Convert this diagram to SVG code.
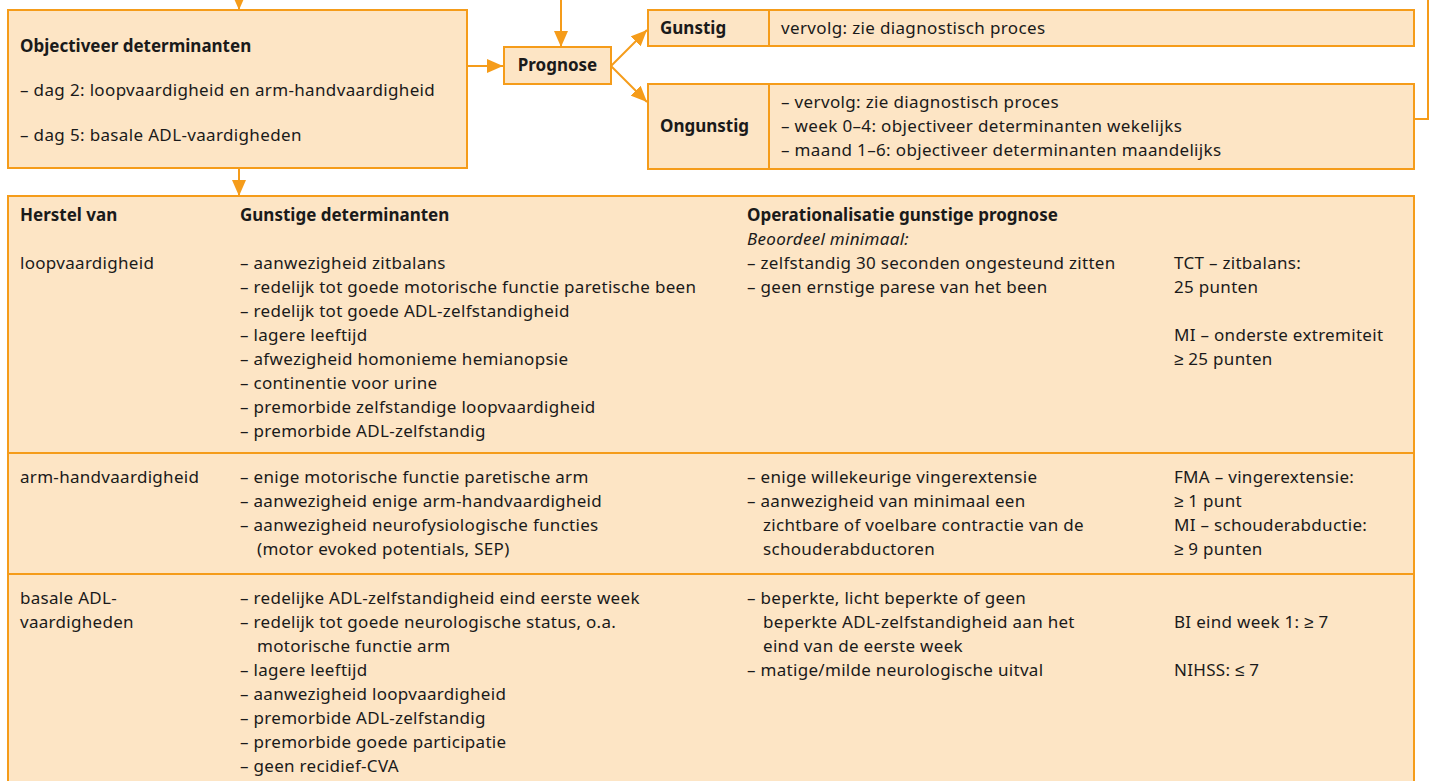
<svg xmlns="http://www.w3.org/2000/svg" width="1430" height="781" viewBox="0 0 1430 781">
<style>
.box{fill:#fde5c5;stroke:#f59c1a;stroke-width:2}
.ln{fill:none;stroke:#f59c1a;stroke-width:2}
.t{font-family:"Noto Sans","Liberation Sans",sans-serif;font-size:17px;letter-spacing:0.35px;fill:#1a1a1a}
.tb{font-family:"Noto Sans","Liberation Sans",sans-serif;font-size:17px;letter-spacing:0.3px;fill:#1a1a1a}
.b{font-weight:bold;letter-spacing:0}
.i{font-style:italic}
</style>
<defs>
<marker id="ah" markerUnits="userSpaceOnUse" markerWidth="17" markerHeight="14" refX="16" refY="7" orient="auto">
<path d="M0,0 L16,7 L0,14 z" fill="#f59c1a"/>
</marker>
</defs>
<rect width="1430" height="781" fill="#ffffff"/>
<g id="connectors">
<line class="ln" x1="239" y1="-2" x2="239" y2="10" marker-end="url(#ah)"/>
<line class="ln" x1="561" y1="-2" x2="561" y2="47" marker-end="url(#ah)"/>
<line class="ln" x1="467" y1="66" x2="503" y2="66" marker-end="url(#ah)"/>
<line class="ln" x1="611" y1="66" x2="647" y2="30" marker-end="url(#ah)"/>
<line class="ln" x1="611" y1="66" x2="647" y2="102" marker-end="url(#ah)"/>
<line class="ln" x1="239" y1="168" x2="239" y2="196" marker-end="url(#ah)"/>
<polyline class="ln" points="1414,119 1428,119 1428,-2"/>
</g>
<g id="objectiveer">
<rect class="box" x="8" y="10" width="459" height="158"/>
<text class="t b" x="20" y="52">Objectiveer determinanten</text>
<text class="t" x="20" y="96">– dag 2: loopvaardigheid en arm-handvaardigheid</text>
<text class="t" x="20" y="141">– dag 5: basale ADL-vaardigheden</text>
</g>
<g id="prognose">
<rect class="box" x="504" y="47" width="107" height="37"/>
<text class="t b" x="557.5" y="71" text-anchor="middle">Prognose</text>
</g>
<g id="gunstig">
<rect class="box" x="648" y="10" width="766" height="36"/>
<line class="ln" x1="769" y1="10" x2="769" y2="46"/>
<text class="t b" x="660" y="34">Gunstig</text>
<text class="t" x="781" y="34">vervolg: zie diagnostisch proces</text>
</g>
<g id="ongunstig">
<rect class="box" x="648" y="84" width="766" height="85"/>
<line class="ln" x1="769" y1="84" x2="769" y2="169"/>
<text class="t b" x="660" y="132">Ongunstig</text>
<text class="t" x="781" y="108">– vervolg: zie diagnostisch proces</text>
<text class="t" x="781" y="132">– week 0–4: objectiveer determinanten wekelijks</text>
<text class="t" x="781" y="156">– maand 1–6: objectiveer determinanten maandelijks</text>
</g>
<g id="tabel">
<rect class="box" x="8" y="196" width="1406" height="600"/>
<line class="ln" x1="8" y1="453" x2="1414" y2="453"/>
<line class="ln" x1="8" y1="574" x2="1414" y2="574"/>
<text class="tb b" x="20" y="221">Herstel van</text>
<text class="tb b" x="240" y="221">Gunstige determinanten</text>
<text class="tb b" x="747" y="221">Operationalisatie gunstige prognose</text>
<text class="tb i" x="747" y="245">Beoordeel minimaal:</text>

<text class="tb" x="20" y="269">loopvaardigheid</text>
<text class="tb" x="240" y="269">– aanwezigheid zitbalans</text>
<text class="tb" x="240" y="293">– redelijk tot goede motorische functie paretische been</text>
<text class="tb" x="240" y="317">– redelijk tot goede ADL-zelfstandigheid</text>
<text class="tb" x="240" y="341">– lagere leeftijd</text>
<text class="tb" x="240" y="365">– afwezigheid homonieme hemianopsie</text>
<text class="tb" x="240" y="389">– continentie voor urine</text>
<text class="tb" x="240" y="413">– premorbide zelfstandige loopvaardigheid</text>
<text class="tb" x="240" y="437">– premorbide ADL-zelfstandig</text>
<text class="tb" x="747" y="269">– zelfstandig 30 seconden ongesteund zitten</text>
<text class="tb" x="747" y="293">– geen ernstige parese van het been</text>
<text class="tb" x="1174" y="269">TCT – zitbalans:</text>
<text class="tb" x="1174" y="293">25 punten</text>
<text class="tb" x="1174" y="341">MI – onderste extremiteit</text>
<text class="tb" x="1174" y="365">≥ 25 punten</text>

<text class="tb" x="20" y="483">arm-handvaardigheid</text>
<text class="tb" x="240" y="483">– enige motorische functie paretische arm</text>
<text class="tb" x="240" y="507">– aanwezigheid enige arm-handvaardigheid</text>
<text class="tb" x="240" y="531">– aanwezigheid neurofysiologische functies</text>
<text class="tb" x="257" y="555">(motor evoked potentials, SEP)</text>
<text class="tb" x="747" y="483">– enige willekeurige vingerextensie</text>
<text class="tb" x="747" y="507">– aanwezigheid van minimaal een</text>
<text class="tb" x="763" y="531">zichtbare of voelbare contractie van de</text>
<text class="tb" x="763" y="555">schouderabductoren</text>
<text class="tb" x="1174" y="483">FMA – vingerextensie:</text>
<text class="tb" x="1174" y="507">≥ 1 punt</text>
<text class="tb" x="1174" y="531">MI – schouderabductie:</text>
<text class="tb" x="1174" y="555">≥ 9 punten</text>

<text class="tb" x="20" y="604">basale ADL-</text>
<text class="tb" x="20" y="628">vaardigheden</text>
<text class="tb" x="240" y="604">– redelijke ADL-zelfstandigheid eind eerste week</text>
<text class="tb" x="240" y="628">– redelijk tot goede neurologische status, o.a.</text>
<text class="tb" x="257" y="652">motorische functie arm</text>
<text class="tb" x="240" y="676">– lagere leeftijd</text>
<text class="tb" x="240" y="700">– aanwezigheid loopvaardigheid</text>
<text class="tb" x="240" y="724">– premorbide ADL-zelfstandig</text>
<text class="tb" x="240" y="748">– premorbide goede participatie</text>
<text class="tb" x="240" y="772">– geen recidief-CVA</text>
<text class="tb" x="747" y="604">– beperkte, licht beperkte of geen</text>
<text class="tb" x="763" y="628">beperkte ADL-zelfstandigheid aan het</text>
<text class="tb" x="763" y="652">eind van de eerste week</text>
<text class="tb" x="747" y="676">– matige/milde neurologische uitval</text>
<text class="tb" x="1174" y="628">BI eind week 1: ≥ 7</text>
<text class="tb" x="1174" y="676">NIHSS: ≤ 7</text>
</g>
</svg>
